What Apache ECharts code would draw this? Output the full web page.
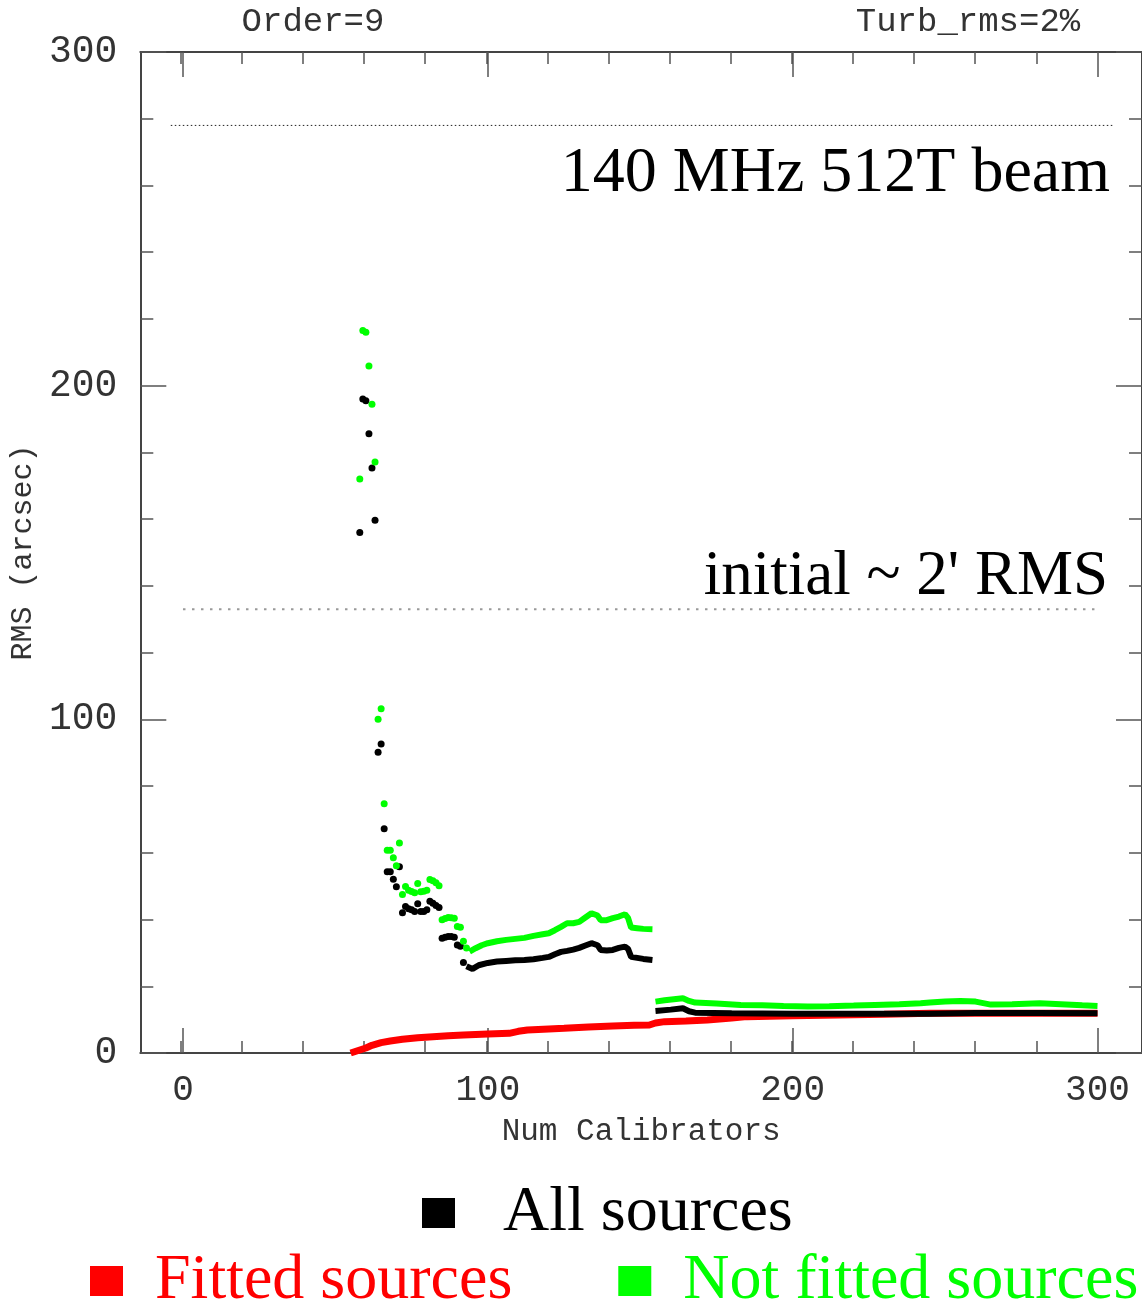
<!DOCTYPE html>
<html>
<head>
<meta charset="utf-8">
<script src="https://cdn.jsdelivr.net/npm/echarts@6/dist/echarts.min.js"></script>
<style>html,body{margin:0;padding:0;background:#fff}#c{width:1142px;height:1307px}</style>
</head>
<body>
<div id="c"></div>
<script>
// ---- tick labels ----
const xMajorTicks = [0, 100, 200, 300];
const xMinorTicks = [0, 20, 40, 60, 80, 100, 120, 140, 160, 180, 200, 220, 240, 260, 280, 300];

// ---- reference lines [numCalibrators, rms] ----
const beamLine = [[-4, 278], [305, 278]];
const initialRmsLine = [[0, 133], [299, 133]];

// ---- All sources (black) ----
const allEarly = [
  [58,156],[59,196],[60,195.5],[61,185.6],[62,175.3],[63,159.7],
  [64,90.1],[65,92.6],[66,67.2],[67,54.3],[68,54.3],[69,52.1],[70,49.8],[71,55.8],
  [72,42.0],[73,43.9],[74,43.2],[75,42.9],[76,42.4],[77,44.7],[78,42.4],[79,42.4],[80,42.9],
  [81,45.5],[82,44.9],[83,44.2],[84,43.6],[85,34.4],[86,34.7],[87,34.9],[88,34.9],[89,34.7],
  [90,32.4],[91,32.0],[92,27.1]
];
const allMid = [
  [93,26.0],[95,25.2],[97,26.3],[100,27.0],[103,27.4],[106,27.6],[109,27.8],[112,27.9],
  [115,28.1],[118,28.5],[120,28.8],[122,29.6],[124,30.3],[126,30.6],[128,31.0],[130,31.5],
  [132,32.2],[134,32.9],[136,32.3],[137,30.9],[139,30.7],[141,30.9],[143,31.5],[145,31.9],
  [146,31.2],[147,28.8],[149,28.5],[151,28.2],[154,27.9]
];
const allLate = [
  [155,12.6],[160,13.0],[164,13.4],[166,12.5],[168,12.1],[180,11.9],[200,11.8],[220,11.8],
  [245,11.8],[260,12.0],[280,12.0],[300,11.9]
];

// ---- Not fitted sources (green) ----
const notFittedEarly = [
  [58,172],[59,216.5],[60,216],[61,205.9],[62,194.4],[63,177.1],
  [64,100],[65,103.2],[66,74.7],[67,60.8],[68,60.8],[69,58.5],[70,56.1],[71,62.9],
  [72,47.5],[73,49.9],[74,48.8],[75,48.4],[76,48.0],[77,50.8],[78,48.3],[79,48.5],[80,48.8],
  [81,52.0],[82,51.6],[83,51.0],[84,50.1],[85,39.9],[86,40.3],[87,40.6],[88,40.5],[89,40.4],
  [90,37.9],[91,37.7],[92,33.5],[93,31.5]
];
const notFittedMid = [
  [94,30.4],[96,31.4],[98,32.3],[100,32.9],[103,33.5],[106,33.9],[109,34.2],[112,34.5],
  [115,35.1],[118,35.6],[120,35.9],[122,36.8],[124,37.8],[126,38.9],[128,38.9],[130,39.3],
  [132,40.6],[134,41.9],[136,41.2],[137,39.8],[139,39.8],[141,40.4],[143,40.9],[145,41.6],
  [146,40.5],[147,37.6],[149,37.4],[151,37.2],[154,37.1]
];
const notFittedLate = [
  [155,15.4],[158,15.8],[161,16.1],[164,16.4],[166,15.6],[168,15.1],[175,14.8],[183,14.4],
  [190,14.3],[197,14.1],[205,13.9],[212,14.0],[220,14.2],[227,14.4],[235,14.6],[242,14.9],
  [245,15.1],[250,15.4],[255,15.6],[260,15.4],[265,14.5],[272,14.6],[281,14.9],[288,14.6],
  [295,14.3],[300,14.1]
];

// ---- Fitted sources (red) ----
const fitted = [
  [55,0],[57,0.6],[60,1.5],[62,2.3],[65,3.1],[68,3.6],[72,4.1],[77,4.6],[82,4.9],[87,5.2],
  [92,5.4],[100,5.7],[107,5.9],[110,6.5],[113,6.9],[120,7.2],[125,7.4],[133,7.8],[141,8.1],
  [148,8.3],[153,8.4],[155,9.0],[158,9.4],[165,9.6],[172,9.9],[180,10.5],[185,10.9],[200,11.2],
  [215,11.4],[230,11.6],[245,11.9],[260,11.9],[280,11.9],[300,11.9]
];

const MONO = 'Liberation Mono';
const SERIF = 'Liberation Serif';
const RED = '#ff0000', GREEN = '#00ff00', BLACK = '#000000';
const XMIN = -14, XMAX = 314.6;
const axisLineStyle = {color: '#444', width: 2};
const tickStyle = {color: '#555', width: 1.5};

const chart = echarts.init(document.getElementById('c'), null, {renderer: 'canvas'});

function lineSeries(name, data, color, width) {
  return {name, type: 'line', data, xAxisIndex: 0, yAxisIndex: 0, symbol: 'none', showSymbol: false,
    lineStyle: {color, width, opacity: 1}, itemStyle: {color, opacity: 1}, animation: false, silent: true, z: 3};
}
function dotSeries(name, data, color) {
  return {name, type: 'scatter', data, xAxisIndex: 0, yAxisIndex: 0, symbol: 'circle', symbolSize: 7,
    itemStyle: {color, opacity: 1}, animation: false, silent: true, z: 3};
}

chart.setOption({
  backgroundColor: '#fff',
  animation: false,
  grid: [
    {left: 138, top: 52, width: 1004, height: 1001, containLabel: false},
    {left: 138, top: 52, width: 1004, height: 1001, containLabel: false}
  ],
  xAxis: [
    {type: 'value', gridIndex: 0, position: 'bottom', min: XMIN, max: XMAX,
      axisLine: {show: true, onZero: false, lineStyle: axisLineStyle},
      axisTick: {show: true, inside: true, length: 25, customValues: xMajorTicks, lineStyle: tickStyle},
      axisLabel: {show: true, customValues: xMajorTicks, margin: 19, fontFamily: MONO, fontSize: 36, color: '#333'},
      splitLine: {show: false},
      name: 'Num Calibrators', nameLocation: 'middle', nameGap: 63,
      nameTextStyle: {fontFamily: MONO, fontSize: 31, color: '#333'}},
    {type: 'value', gridIndex: 0, position: 'top', min: XMIN, max: XMAX,
      axisLine: {show: true, onZero: false, lineStyle: axisLineStyle},
      axisTick: {show: true, inside: true, length: 25, customValues: xMajorTicks, lineStyle: tickStyle},
      axisLabel: {show: false}, splitLine: {show: false}},
    {type: 'value', gridIndex: 1, position: 'bottom', min: XMIN, max: XMAX,
      axisLine: {show: false, onZero: false},
      axisTick: {show: true, inside: true, length: 12, customValues: xMinorTicks, lineStyle: tickStyle},
      axisLabel: {show: false}, splitLine: {show: false}},
    {type: 'value', gridIndex: 1, position: 'top', min: XMIN, max: XMAX,
      axisLine: {show: false, onZero: false},
      axisTick: {show: true, inside: true, length: 12, customValues: xMinorTicks, lineStyle: tickStyle},
      axisLabel: {show: false}, splitLine: {show: false}}
  ],
  yAxis: [
    {type: 'value', gridIndex: 0, position: 'left', min: 0, max: 300, interval: 100,
      axisLine: {show: true, onZero: false, lineStyle: axisLineStyle},
      axisTick: {show: true, inside: true, length: 26, lineStyle: tickStyle},
      minorTick: {show: true, splitNumber: 5, length: 13, lineStyle: tickStyle},
      axisLabel: {show: true, margin: 23, fontFamily: MONO, fontSize: 38, color: '#333'},
      splitLine: {show: false}, minorSplitLine: {show: false},
      name: 'RMS (arcsec)', nameLocation: 'middle', nameGap: 84, nameRotate: 90,
      nameTextStyle: {fontFamily: MONO, fontSize: 30, color: '#333'}},
    {type: 'value', gridIndex: 0, position: 'right', min: 0, max: 300, interval: 100,
      axisLine: {show: true, onZero: false, lineStyle: axisLineStyle},
      axisTick: {show: true, inside: true, length: 26, lineStyle: tickStyle},
      minorTick: {show: true, splitNumber: 5, length: 13, lineStyle: tickStyle},
      axisLabel: {show: false}, splitLine: {show: false}},
    {type: 'value', gridIndex: 1, min: 0, max: 300, show: false}
  ],
  legend: [
    {data: [{name: 'All sources', textStyle: {color: BLACK}, itemStyle: {color: BLACK, opacity: 1}}],
      left: 422, top: 1181, orient: 'horizontal', icon: 'rect', itemWidth: 33, itemHeight: 30,
      selectedMode: false, padding: 0,
      textStyle: {fontFamily: SERIF, fontSize: 64, lineHeight: 30, padding: [26, 0, 0, 43]}},
    {data: [{name: 'Fitted sources', textStyle: {color: RED}, itemStyle: {color: RED, opacity: 1}},
            {name: 'Not fitted sources', textStyle: {color: GREEN}, itemStyle: {color: GREEN, opacity: 1}}],
      left: 90, top: 1249, orient: 'horizontal', icon: 'rect', itemWidth: 33, itemHeight: 30, itemGap: 106,
      selectedMode: false, padding: 0,
      textStyle: {fontFamily: SERIF, fontSize: 64, lineHeight: 30, padding: [20, 0, 0, 27]}}
  ],
  graphic: [
    {type: 'text', x: 313, y: 22, silent: true,
      style: {text: 'Order=9', font: '34px "Liberation Mono"', fill: '#333', align: 'center', verticalAlign: 'middle', textAlign: 'center', textVerticalAlign: 'middle'}},
    {type: 'text', x: 968, y: 22, silent: true,
      style: {text: 'Turb_rms=2%', font: '34px "Liberation Mono"', fill: '#333', align: 'center', verticalAlign: 'middle', textAlign: 'center', textVerticalAlign: 'middle'}},
    {type: 'text', x: 1110, y: 174, silent: true,
      style: {text: '140 MHz 512T beam', font: '64px "Liberation Serif"', fill: '#000', align: 'right', verticalAlign: 'middle', textAlign: 'right', textVerticalAlign: 'middle'}},
    {type: 'text', x: 1108, y: 577, silent: true,
      style: {text: "initial ~ 2' RMS", font: '63px "Liberation Serif"', fill: '#000', align: 'right', verticalAlign: 'middle', textAlign: 'right', textVerticalAlign: 'middle'}}
  ],
  series: [
    {type: 'line', data: beamLine, xAxisIndex: 0, yAxisIndex: 0, symbol: 'none', silent: true, animation: false,
      lineStyle: {color: '#222', width: 1, type: [1.5, 2.5]}, z: 1},
    {type: 'line', data: initialRmsLine, xAxisIndex: 0, yAxisIndex: 0, symbol: 'none', silent: true, animation: false,
      lineStyle: {color: '#999', width: 2, type: [2.5, 6.5]}, z: 1},
    lineSeries('Fitted sources', fitted, RED, 7),
    dotSeries('All sources', allEarly, BLACK),
    lineSeries('All sources', allMid, BLACK, 6),
    lineSeries('All sources', allLate, BLACK, 6),
    dotSeries('Not fitted sources', notFittedEarly, GREEN),
    lineSeries('Not fitted sources', notFittedMid, GREEN, 6),
    lineSeries('Not fitted sources', notFittedLate, GREEN, 6)
  ]
});
</script>
</body>
</html>
